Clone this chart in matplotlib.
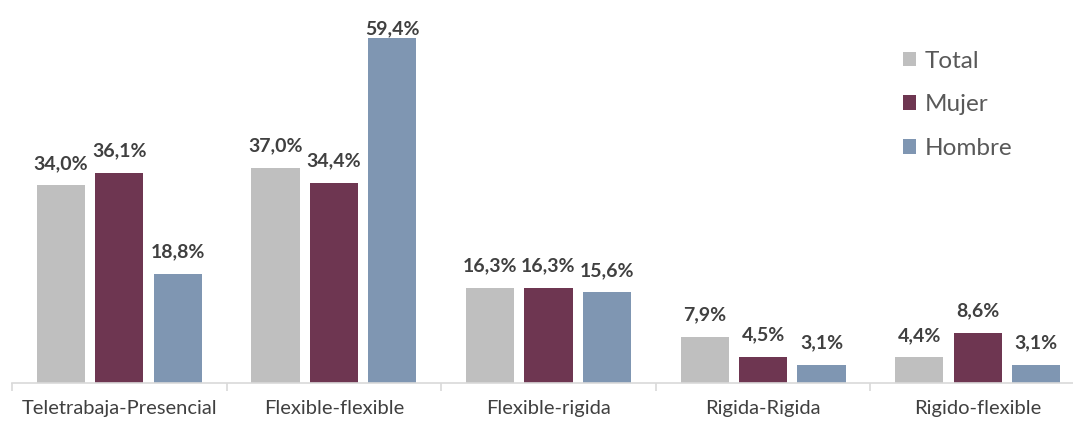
import matplotlib
matplotlib.use("Agg")
import matplotlib.pyplot as plt
import numpy as np

categories = ["Teletrabaja-Presencial", "Flexible-flexible", "Flexible-rigida",
              "Rigida-Rigida", "Rigido-flexible"]
series_names = ["Total", "Mujer", "Hombre"]
total = [34.0, 37.0, 16.3, 7.9, 4.4]
mujer = [36.1, 34.4, 16.3, 4.5, 8.6]
hombre = [18.8, 59.4, 15.6, 3.1, 3.1]
colors = ["#BFBFBF", "#6E3651", "#7F96B2"]

plt.rcParams["font.family"] = ["Lato", "DejaVu Sans"]

W, H = 1073, 426
fig = plt.figure(figsize=(W / 100, H / 100), dpi=100)
# axes spans a little past the right edge of the figure
left_px, right_px, base_px, top_px = 12, 1085, 383, 5
ax = fig.add_axes([left_px / W, (H - base_px) / H,
                   (right_px - left_px) / W, (base_px - top_px) / H])

ymax = 65
px_per_unit = (base_px - top_px) / ymax
label_gap = 22 / px_per_unit          # label centre sits ~22 px above the bar
label_ceiling = (base_px - 29) / px_per_unit  # labels never go above this

x = np.arange(len(categories))
bw = 0.224
step = 0.272
for i, (vals, name, c) in enumerate(zip([total, mujer, hombre], series_names, colors)):
    pos = x + (i - 1) * step
    bars = ax.bar(pos, vals, width=bw, color=c, label=name)
    for b, v in zip(bars, vals):
        ax.text(b.get_x() + b.get_width() / 2, min(v + label_gap, label_ceiling),
                f"{v:.1f}%".replace(".", ","),
                ha="center", va="center", fontsize=14, fontweight="bold",
                color="#404040")

ax.set_xlim(-0.5, len(categories) - 0.5)
ax.set_ylim(0, ymax)
ax.set_yticks([])
for s in ["top", "right", "left"]:
    ax.spines[s].set_visible(False)
ax.spines["bottom"].set_color("#D9D9D9")
ax.spines["bottom"].set_linewidth(1.2)

ax.set_xticks(x)
ax.set_xticklabels(categories, fontsize=14.5, color="#404040")
ax.tick_params(axis="x", which="major", length=0, pad=12)
ax.set_xticks(np.arange(-0.5, len(categories)), minor=True)
ax.tick_params(axis="x", which="minor", length=6, color="#D9D9D9", width=1.2)

leg = fig.legend(loc="upper left", bbox_to_anchor=(893 / W, 1 - 41 / H),
                 frameon=False, fontsize=17.5, handlelength=0.55, handleheight=0.55,
                 handletextpad=0.37, labelspacing=0.93, borderaxespad=0)
for t in leg.get_texts():
    t.set_color("#595959")

fig.savefig("out.png", dpi=100)
